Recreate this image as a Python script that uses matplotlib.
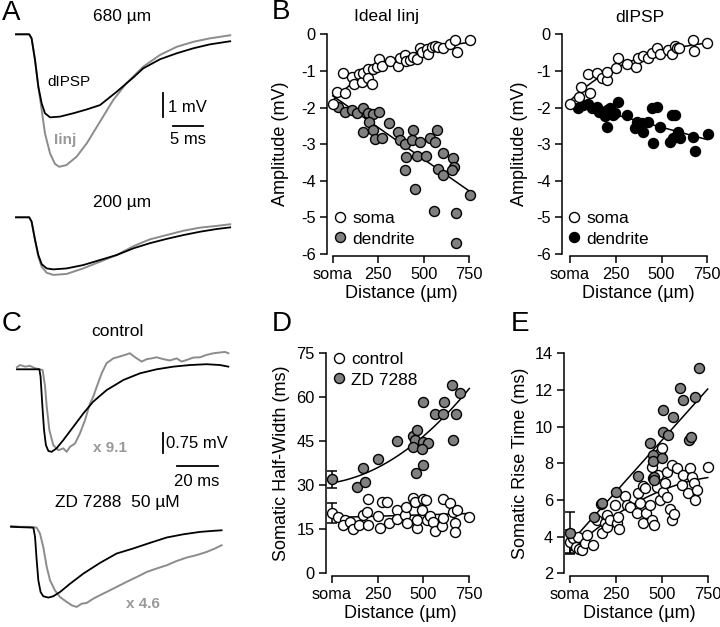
import numpy as np
import matplotlib.pyplot as plt

plt.rcParams['font.family'] = ['Liberation Sans', 'DejaVu Sans']
plt.rcParams['axes.unicode_minus'] = False

W, H = 720, 627
FILL_GRAY = '#808080'
TRACE_GRAY = '#8c8c8c'
TEXT_GRAY = '#999999'

# ---------------- panel A traces: time (ms), voltage (mV) ----------------
a680_t = [0, 2.2, 2.6, 3.17, 3.72, 4.28, 4.83, 5.67, 7.33, 9.56, 11.8, 14.0, 16.8, 19.6, 21.2, 24.0, 26.8, 29.6, 32.3, 35.7]
a680_dipsp = [0, 0, -0.17, -1.07, -2.18, -2.88, -3.29, -3.46, -3.43, -3.29, -3.13, -2.95, -2.39, -1.79, -1.42, -1.04, -0.79, -0.58, -0.42, -0.29]
a680_iinj_t = [0, 2.2, 2.6, 3.17, 3.72, 4.28, 4.83, 5.67, 6.5, 7.2, 8.4, 10.1, 11.8, 14.0, 16.2, 18.4, 21.2, 24.0, 26.8, 29.6, 32.3, 35.7]
a680_iinj = [0, 0, -0.17, -1.07, -2.18, -3.15, -4.13, -4.96, -5.40, -5.52, -5.45, -5.10, -4.54, -3.64, -2.74, -2.04, -1.35, -0.86, -0.52, -0.31, -0.17, -0.04]

a200_t = [0, 2.2, 2.6, 3.17, 3.72, 4.28, 5.11, 6.22, 8.44, 11.2, 14.0, 16.8, 19.6, 22.3, 25.1, 27.9, 30.7, 33.4, 35.7]
a200_dipsp = [0, 0, -0.18, -0.94, -1.57, -1.95, -2.13, -2.17, -2.13, -1.99, -1.78, -1.57, -1.29, -1.08, -0.90, -0.74, -0.60, -0.49, -0.42]
a200_iinj = [0, 0, -0.18, -0.94, -1.64, -2.06, -2.31, -2.40, -2.36, -2.13, -1.85, -1.57, -1.20, -0.92, -0.74, -0.56, -0.43, -0.36, -0.29]

# ---------------- panel C traces: time (ms), voltage (mV) ----------------
cc_dipsp_t = [0, 10.9, 11.5, 12.4, 13.2, 14.1, 15.3, 16.9, 19.3, 22.6, 27.5, 32.4, 37.2, 43.7, 51.9, 60.0, 68.1, 76.3, 84.4, 92.5, 99.0, 103.1]
cc_dipsp = [0, 0, -0.28, -1.40, -2.28, -2.84, -3.06, -3.09, -2.96, -2.65, -2.15, -1.65, -1.21, -0.78, -0.40, -0.15, 0.0, 0.10, 0.16, 0.19, 0.16, 0.10]
cc_soma_t = [0, 1.5, 3.9, 6.3, 8.8, 11.2, 12.5, 13.7, 14.5, 15.8, 17.7, 20.2, 22.6, 24.2, 25.9, 28.3, 30.7, 33.2, 35.6, 37.2, 38.9,
             41.3, 43.7, 47.0, 50.2, 52.7, 55.1, 56.7, 58.4, 60.8, 63.3, 65.7, 68.1, 71.4, 74.6, 77.9, 80.3, 82.8, 86.0, 89.3,
             92.5, 95.8, 99.0, 101.5, 103.1]
cc_soma = [0.08, 0.16, 0.10, 0.13, 0.04, 0.0, -0.03, -0.65, -1.40, -2.28, -2.84, -3.03, -2.96, -3.09, -2.90, -2.78, -2.40, -1.90,
           -1.28, -1.03, -0.65, -0.15, 0.23, 0.41, 0.48, 0.54, 0.60, 0.50, 0.41, 0.29, 0.38, 0.41, 0.45, 0.38, 0.33, 0.41, 0.29,
           0.35, 0.44, 0.45, 0.54, 0.60, 0.63, 0.65, 0.60]

cz_dipsp_t = [-2.9, 8.0, 8.8, 9.6, 10.4, 11.5, 12.8, 15.3, 17.7, 21.0, 25.9, 32.4, 40.5, 48.6, 56.7, 64.9, 73.0, 81.1, 89.3, 95.8, 99.8]
cz_dipsp = [0, -0.03, -0.38, -1.25, -2.00, -2.44, -2.60, -2.65, -2.60, -2.44, -2.13, -1.75, -1.35, -1.00, -0.81, -0.60, -0.40, -0.28, -0.19, -0.15, -0.13]
cz_soma_t = [-2.9, 1.5, 6.3, 9.6, 11.2, 12.8, 14.5, 16.1, 18.5, 21.0, 24.2, 26.7, 29.1, 31.5, 34.0, 37.2, 40.5, 43.7, 48.6, 53.5,
             58.4, 63.3, 68.1, 73.0, 77.9, 82.8, 87.6, 92.5, 96.6, 99.8]
cz_soma = [0.03, 0, 0, -0.03, -0.25, -0.75, -1.50, -2.00, -2.38, -2.63, -2.81, -2.94, -3.00, -2.88, -2.85, -2.69, -2.56, -2.44,
           -2.25, -2.06, -1.88, -1.69, -1.56, -1.44, -1.28, -1.15, -1.06, -0.94, -0.81, -0.69]

# ---------------- panel B: distance (um), amplitude (mV) ----------------
iinj_soma_d = [0, 26, 68, 59, 104, 119, 146, 159, 168, 192, 196, 214, 223, 241, 256, 269, 314, 360, 369, 397, 402, 424, 442,
               461, 479, 488, 516, 524, 543, 561, 579, 603, 643, 671, 680, 753]
iinj_soma_v = [-1.90, -1.57, -1.59, -1.07, -1.16, -1.37, -1.09, -1.29, -1.07, -0.96, -1.20, -1.37, -0.95, -0.88, -0.68, -0.86,
               -0.73, -0.86, -0.66, -0.57, -0.73, -0.70, -0.61, -0.68, -0.37, -0.49, -0.40, -0.55, -0.34, -0.31, -0.34, -0.37,
               -0.27, -0.16, -0.48, -0.16]
iinj_dend_d = [31, 67, 104, 132, 168, 195, 223, 256, 201, 168, 219, 232, 269, 311, 360, 369, 397, 439, 433, 402, 397, 461, 479,
               512, 534, 561, 574, 603, 579, 603, 658, 665, 653, 753, 451, 558, 676, 676]
iinj_dend_v = [-1.98, -2.11, -2.07, -2.16, -2.00, -2.16, -2.19, -2.11, -2.40, -2.66, -2.61, -2.86, -2.82, -2.41, -2.66, -2.89,
               -3.00, -2.61, -2.89, -3.34, -3.71, -3.33, -2.93, -3.33, -2.84, -2.93, -2.61, -3.25, -3.68, -3.84, -3.37, -3.62,
               -3.71, -4.39, -4.23, -4.82, -4.89, -5.71]

dipsp_soma_d = [0, 51, 58, 109, 100, 146, 173, 200, 200, 251, 264, 310, 360, 373, 397, 428, 446, 477, 492, 537, 555, 574, 583,
                597, 670, 677, 747]
dipsp_soma_v = [-1.91, -1.70, -1.43, -1.61, -1.09, -1.07, -1.20, -1.25, -1.02, -0.93, -0.66, -0.82, -0.88, -0.66, -0.59, -0.66,
                -0.50, -0.38, -0.55, -0.43, -0.55, -0.31, -0.38, -0.38, -0.16, -0.46, -0.23]
dipsp_dend_d = [46, 73, 100, 118, 146, 160, 178, 190, 200, 218, 200, 236, 246, 264, 310, 364, 355, 392, 400, 428, 446, 473, 455,
                492, 555, 574, 546, 564, 592, 601, 670, 683, 755]
dipsp_dend_v = [-2.02, -1.93, -1.89, -2.02, -1.98, -2.12, -2.16, -2.22, -2.07, -2.02, -2.52, -2.20, -2.16, -1.84, -2.20, -2.39,
                -2.57, -2.43, -2.66, -2.39, -2.02, -1.98, -2.98, -2.52, -2.20, -2.20, -2.93, -2.84, -2.66, -2.84, -2.80, -3.19,
                -2.73]

# ---------------- panel D: somatic half-width (ms) ----------------
hw_ctrl_d = [0, 36, 73, 60, 100, 118, 151, 169, 191, 200, 200, 254, 263, 272, 300, 314, 358, 358, 400, 405, 409, 445, 454, 463,
             463, 490, 500, 513, 518, 536, 554, 563, 599, 609, 605, 645, 663, 672, 672, 681, 750]
hw_ctrl_v = [20.5, 19.1, 18.2, 16.5, 17.6, 15.0, 16.5, 19.9, 21.0, 25.2, 16.5, 19.5, 15.3, 24.4, 24.4, 17.3, 21.6, 18.4, 19.9,
             22.7, 17.0, 25.6, 24.4, 15.3, 18.2, 21.6, 25.2, 24.9, 18.2, 19.5, 17.6, 14.5, 16.1, 25.2, 18.8, 23.9, 21.0, 17.3,
             14.2, 21.7, 19.3]
hw_ctrl_err = 3.5
hw_zd_d = [0, 136, 173, 182, 254, 358, 445, 463, 454, 445, 460, 500, 500, 527, 490, 500, 563, 605, 612, 654, 699, 678, 659]
hw_zd_v = [32.0, 29.5, 35.8, 31.0, 38.9, 45.1, 46.8, 48.9, 45.4, 43.0, 34.1, 36.9, 44.9, 44.3, 42.3, 58.5, 54.3, 54.3, 58.5,
           64.2, 61.6, 54.3, 45.6]
hw_zd_err = 3.0

# ---------------- panel E: somatic rise time (ms) ----------------
rt_ctrl_d = [0, 18, 33, 45, 50, 64, 82, 95, 123, 145, 173, 191, 200, 203, 218, 245, 254, 263, 269, 300, 309, 327, 363, 372,
             381, 396, 400, 409, 414, 436, 445, 445, 450, 459, 472, 481, 490, 490, 499, 509, 518, 527, 530, 545, 554, 554,
             567, 581, 608, 617, 645, 654, 663, 676, 681, 690, 754]
rt_ctrl_v = [3.73, 3.90, 3.45, 4.00, 3.30, 3.27, 3.67, 4.10, 3.55, 4.91, 4.18, 4.73, 5.18, 4.55, 4.91, 5.73, 4.73, 5.09, 4.40,
             6.22, 5.73, 5.64, 5.27, 6.36, 5.85, 4.73, 6.76, 6.64, 5.27, 5.73, 7.82, 4.91, 7.18, 4.64, 6.73, 7.36, 6.00, 8.55,
             8.82, 6.45, 6.91, 7.55, 6.18, 5.49, 4.91, 7.91, 5.24, 7.73, 6.82, 7.36, 6.36, 7.73, 7.27, 6.91, 6.00, 6.55, 7.82]
rt_ctrl_err = 0.65
rt_zd_d = [0, 131, 167, 173, 251, 369, 436, 450, 450, 459, 459, 499, 505, 509, 536, 559, 599, 617, 650, 657, 681, 701]
rt_zd_v = [4.18, 5.05, 5.80, 5.85, 6.45, 7.31, 9.13, 8.45, 8.10, 7.27, 7.09, 8.27, 9.73, 10.90, 9.55, 10.55, 12.09, 11.45,
           9.27, 9.42, 11.60, 13.18]
rt_zd_err = 1.15

dist_ticks = [0, 250, 500, 750]
dist_labels = ['soma', '250', '500', '750']


def fx(px):
    return px / W


def fy(py):
    return 1 - py / H


def px_axes(fig, box, xref, yref):
    # box = (left, top, right, bottom) in pixels; refs map two pixels to data values
    left, top, right, bottom = box
    ax = fig.add_axes([fx(left), fy(bottom), (right - left) / W, (bottom - top) / H])
    (p1, v1), (p2, v2) = xref
    s = (p2 - p1) / (v2 - v1)
    ax.set_xlim(v1 + (left - p1) / s, v1 + (right - p1) / s)
    (q1, w1), (q2, w2) = yref
    s = (q2 - q1) / (w2 - w1)
    ax.set_ylim(w1 + (bottom - q1) / s, w1 + (top - q1) / s)
    return ax


def style_scatter_axes(ax, yticks, ylabel, ylab_px, xlab_py):
    for side in ('top', 'right'):
        ax.spines[side].set_visible(False)
    for sp in ax.spines.values():
        sp.set_linewidth(1.1)
    ax.spines['left'].set_bounds(yticks[0], yticks[-1])
    ax.spines['bottom'].set_bounds(0, 750)
    ax.set_xticks(dist_ticks)
    ax.set_xticklabels(dist_labels)
    ax.set_yticks(yticks)
    ax.set_yticklabels([str(t) for t in yticks])
    ax.tick_params(direction='out', length=5, width=1.1, labelsize=11.8, pad=3)
    ax.set_xlabel('Distance (µm)', fontsize=13)
    ax.set_ylabel(ylabel, fontsize=13)
    # centre the y label on the drawn spine, the x label on the drawn axis line
    y0, y1 = ax.transData.transform([(0, yticks[0]), (0, yticks[-1])])[:, 1]
    x0, x1 = ax.transData.transform([(0, 0), (750, 0)])[:, 0]
    ax.yaxis.set_label_coords(fx(ylab_px), (y0 + y1) / 2 / H, transform=ax.figure.transFigure)
    ax.xaxis.set_label_coords((x0 + x1) / 2 / W, fy(xlab_py), transform=ax.figure.transFigure)
    ax.patch.set_visible(False)


def scatter(ax, d, v, face, label=None, z=3):
    ax.plot(d, v, 'o', ms=7.2, mfc=face, mec='black', mew=1.0, ls='none', label=label, zorder=z, clip_on=False)


def fit_line(ax, d, v, kind):
    x = np.linspace(0, 750, 100)
    d = np.asarray(d, float)
    v = np.asarray(v, float)
    if kind == 'exp':
        sgn = np.sign(v.mean())
        c = np.polyfit(d, np.log(np.abs(v)), 1)
        y = sgn * np.exp(np.polyval(c, x))
    else:
        c = np.polyfit(d, v, kind)
        y = np.polyval(c, x)
    ax.plot(x, y, color='black', lw=1.1, zorder=1)


def soma_errorbar(ax, d, v, err, z):
    ax.errorbar([d[0]], [v[0]], yerr=[err], fmt='none', ecolor='black', elinewidth=1.1,
                capsize=3.5, capthick=1.1, zorder=z, clip_on=False)


fig = plt.figure(figsize=(W / 100, H / 100), dpi=100)

# ---------------- A ----------------
axA = px_axes(fig, (0, 0, 240, 312), ((16, 0), (46, 5)), ((34.3, 0), (58.3, -1)))
axA.axis('off')
A_SHIFT = -7.625
axA.plot(a680_iinj_t, a680_iinj, color=TRACE_GRAY, lw=1.4)
axA.plot(a680_t, a680_dipsp, color='black', lw=1.3)
axA.plot(a200_t, np.array(a200_iinj) + A_SHIFT, color=TRACE_GRAY, lw=1.4)
axA.plot(a200_t, np.array(a200_dipsp) + A_SHIFT, color='black', lw=1.3)
axA.plot([24.5, 24.5], [-2.45, -3.45], color='black', lw=1.3)
axA.plot([26.2, 31.2], [-3.82, -3.82], color='black', lw=1.3)

# ---------------- C ----------------
axC = px_axes(fig, (0, 312, 240, 627), ((17, 0), (58, 20)), ((369.3, 0), (396.0, -1)))
axC.axis('off')
C_SHIFT = -5.9
axC.plot(cc_soma_t, cc_soma, color=TRACE_GRAY, lw=1.4)
axC.plot(cc_dipsp_t, cc_dipsp, color='black', lw=1.3)
axC.plot(cz_soma_t, np.array(cz_soma) + C_SHIFT, color=TRACE_GRAY, lw=1.4)
axC.plot(cz_dipsp_t, np.array(cz_dipsp) + C_SHIFT, color='black', lw=1.3)
axC.plot([71.2, 71.2], [-2.39, -3.14], color='black', lw=1.3)
axC.plot([78.0, 98.0], [-3.61, -3.61], color='black', lw=1.3)

# ---------------- B left ----------------
axB1 = px_axes(fig, (326.7, 28, 478, 256), ((332.7, 0), (469.3, 750)), ((34.3, 0), (254, -6)))
fit_line(axB1, iinj_soma_d, iinj_soma_v, 'exp')
fit_line(axB1, iinj_dend_d, iinj_dend_v, 1)
scatter(axB1, iinj_dend_d, iinj_dend_v, FILL_GRAY, 'dendrite', z=2)
scatter(axB1, iinj_soma_d, iinj_soma_v, 'white', 'soma', z=3)
style_scatter_axes(axB1, [-6, -5, -4, -3, -2, -1, 0], 'Amplitude (mV)', 289, 285)

# ---------------- B right ----------------
axB2 = px_axes(fig, (561.7, 28, 715, 256), ((570, 0), (707.3, 750)), ((34.3, 0), (254, -6)))
fit_line(axB2, dipsp_soma_d, dipsp_soma_v, 'exp')
fit_line(axB2, dipsp_dend_d, dipsp_dend_v, 1)
scatter(axB2, dipsp_dend_d, dipsp_dend_v, 'black', 'dendrite', z=2)
scatter(axB2, dipsp_soma_d, dipsp_soma_v, 'white', 'soma', z=3)
style_scatter_axes(axB2, [-6, -5, -4, -3, -2, -1, 0], 'Amplitude (mV)', 528, 285)

# ---------------- D ----------------
axD = px_axes(fig, (325.7, 348, 478, 575.7), ((331.7, 0), (469.3, 750)), ((353.3, 75), (573.3, 0)))
fit_line(axD, hw_ctrl_d, hw_ctrl_v, 1)
fit_line(axD, hw_zd_d, hw_zd_v, 2)
soma_errorbar(axD, hw_ctrl_d, hw_ctrl_v, hw_ctrl_err, 2)
soma_errorbar(axD, hw_zd_d, hw_zd_v, hw_zd_err, 2)
scatter(axD, hw_ctrl_d, hw_ctrl_v, 'white', 'control', z=3)
scatter(axD, hw_zd_d, hw_zd_v, FILL_GRAY, 'ZD 7288', z=4)
style_scatter_axes(axD, [0, 15, 30, 45, 60, 75], 'Somatic Half-Width (ms)', 290, 605)

# ---------------- E ----------------
axE = px_axes(fig, (564, 348, 715, 575.7), ((570, 0), (707.7, 750)), ((353.3, 14), (573.3, 2)))
fit_line(axE, rt_ctrl_d, rt_ctrl_v, 2)
fit_line(axE, rt_zd_d, rt_zd_v, 1)
soma_errorbar(axE, rt_ctrl_d, rt_ctrl_v, rt_ctrl_err, 2)
soma_errorbar(axE, rt_zd_d, rt_zd_v, rt_zd_err, 2)
scatter(axE, rt_ctrl_d, rt_ctrl_v, 'white', z=3)
scatter(axE, rt_zd_d, rt_zd_v, FILL_GRAY, z=4)
style_scatter_axes(axE, [2, 4, 6, 8, 10, 12, 14], 'Somatic Rise Time (ms)', 529, 605)

# legends
for ax, names, (lx, ly) in ((axB1, ('soma', 'dendrite'), (334, 211)),
                            (axB2, ('soma', 'dendrite'), (568, 211)),
                            (axD, ('control', 'ZD 7288'), (333, 352))):
    h, lab = ax.get_legend_handles_labels()
    order = [lab.index(n) for n in names]
    ax.legend([h[i] for i in order], [lab[i] for i in order], loc='upper left',
              bbox_to_anchor=(fx(lx), fy(ly)), bbox_transform=fig.transFigure, frameon=False,
              fontsize=12.5, handlelength=0.7, handletextpad=0.35, labelspacing=0.3,
              borderpad=0, borderaxespad=0)


# ---------------- texts ----------------
def ftext(px, py, s, **kw):
    kw.setdefault('ha', 'center')
    kw.setdefault('va', 'center')
    kw.setdefault('fontsize', 12.5)
    fig.text(fx(px), fy(py), s, **kw)


for letter, px, py in (('A', 2, 13), ('B', 272, 12), ('C', 2, 324), ('D', 272, 324), ('E', 511, 324)):
    ftext(px, py, letter, ha='left', fontsize=20)

ftext(122, 17, '680 µm')
ftext(122, 202, '200 µm')
ftext(69, 82, 'dIPSP', fontsize=11)
ftext(65, 140, 'Iinj', fontsize=11, color=TEXT_GRAY, fontweight='bold')
ftext(168, 107, '1 mV', ha='left', fontsize=12)
ftext(188, 140, '5 ms', fontsize=12)
ftext(387, 17, 'Ideal Iinj')
ftext(640, 17, 'dIPSP')

ftext(117, 331, 'control')
ftext(110, 448, 'x 9.1', fontsize=11, color=TEXT_GRAY, fontweight='bold')
ftext(166, 443, '0.75 mV', ha='left', fontsize=12)
ftext(197, 481, '20 ms', fontsize=12)
ftext(117, 503, 'ZD 7288  50 µM')
ftext(143, 604, 'x 4.6', fontsize=11, color=TEXT_GRAY, fontweight='bold')

fig.savefig('out.png', dpi=100)
